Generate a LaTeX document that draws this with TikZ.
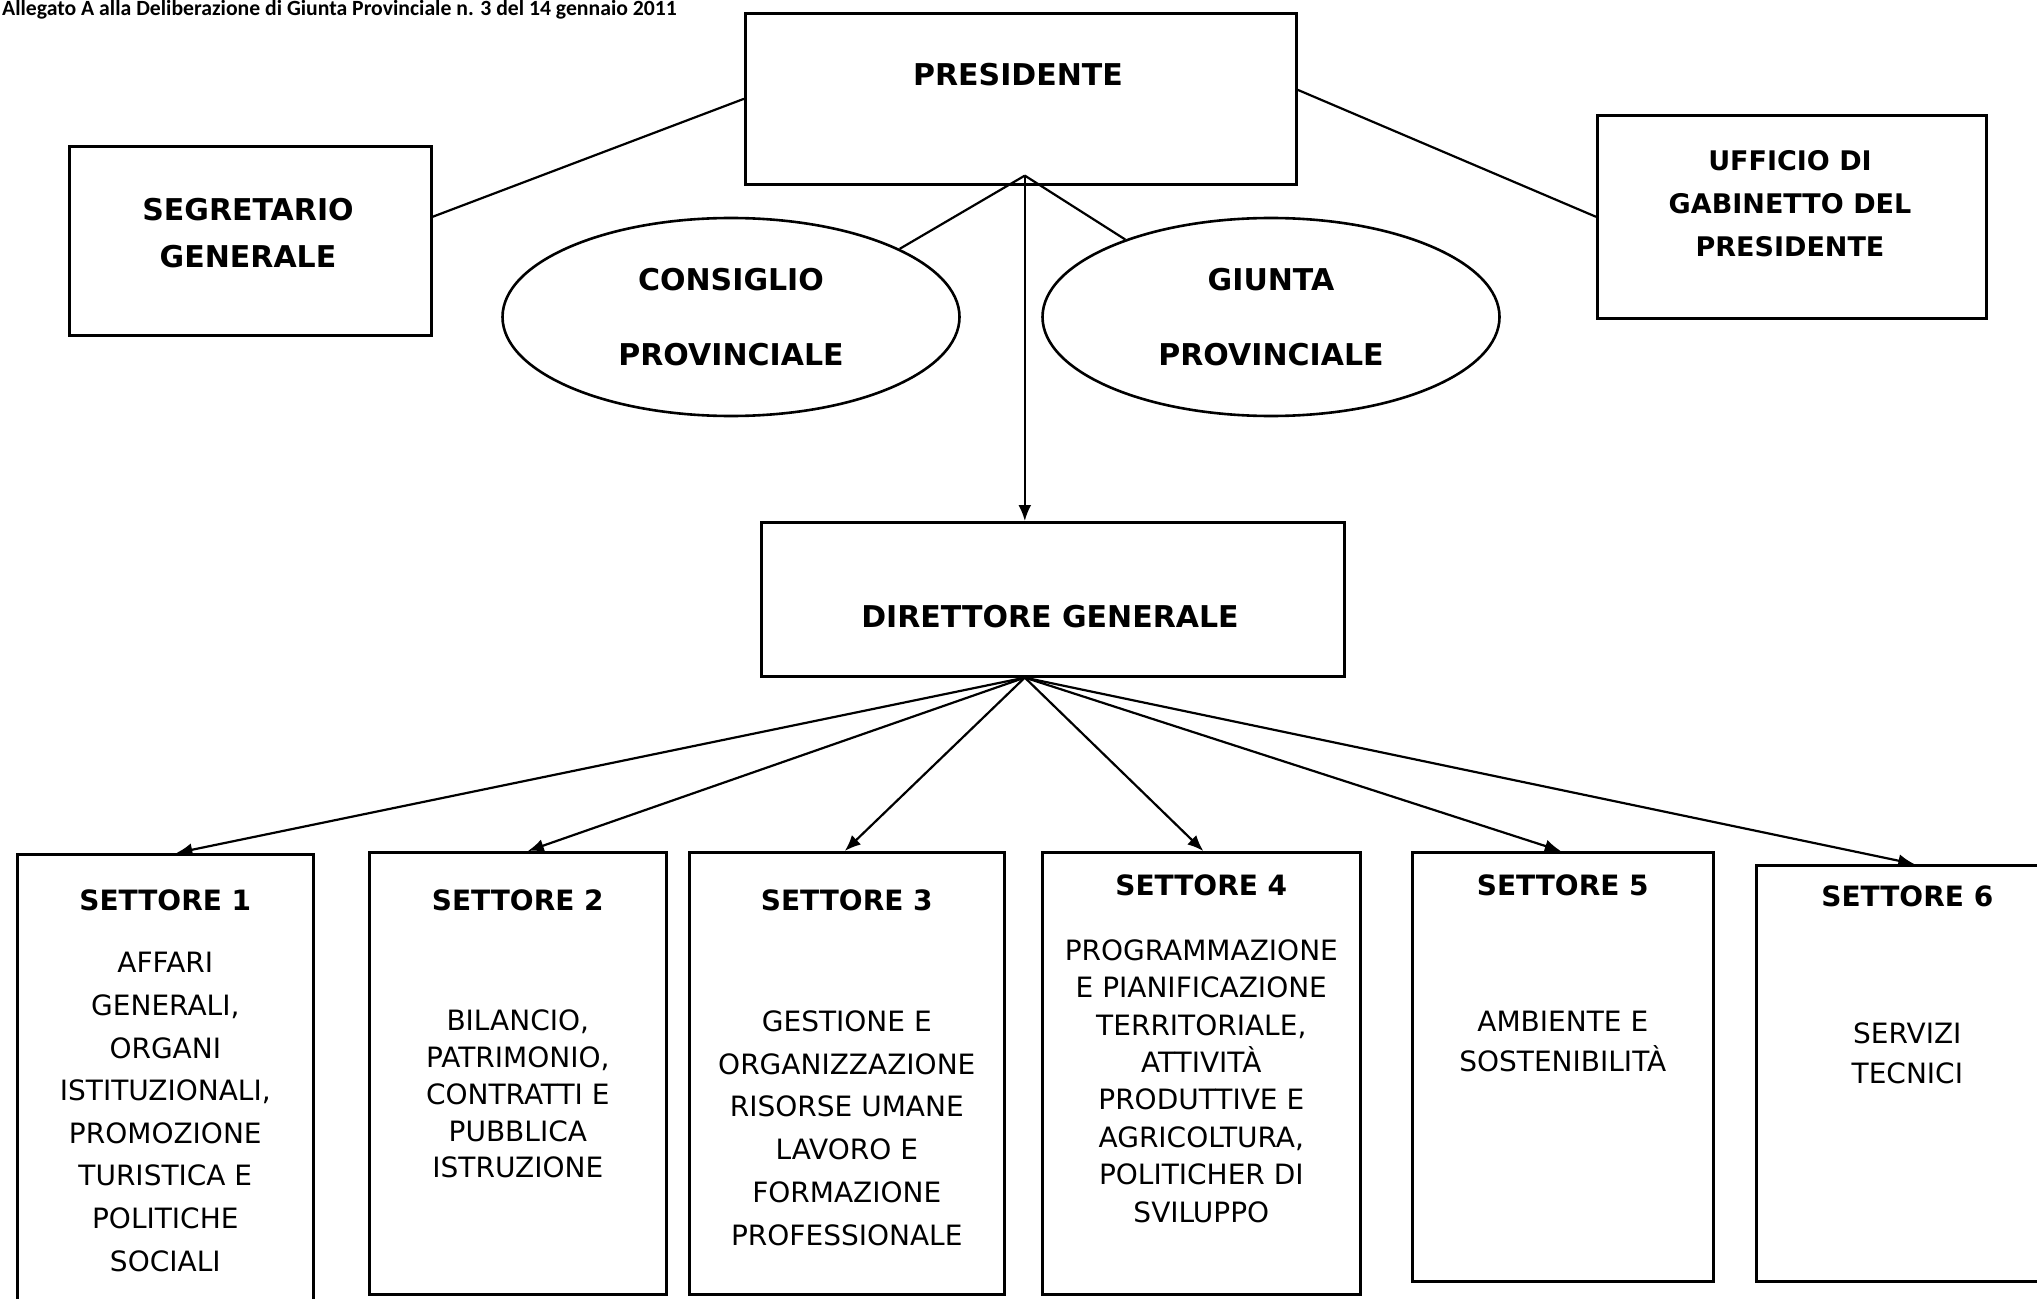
\documentclass[tikz,border=0pt]{standalone}
\usepackage{fontspec}
\setmainfont{DejaVu Sans}
\newfontfamily\intestfont{Carlito}
\usetikzlibrary{shapes.geometric, arrows.meta, positioning, calc}

\begin{document}
\begin{tikzpicture}[
    x=0.5pt, y=-0.5pt,
    line width=1.1pt,
    topbox/.style={rectangle, draw, line width=1.3pt, anchor=north west},
    ovale/.style={ellipse, draw, line width=1.3pt, align=center, minimum width=228.5pt, minimum height=99pt,
        font=\fontsize{15pt}{37.5pt}\selectfont\bfseries},
    toptext/.style={align=center, inner sep=0pt, font=\fontsize{15pt}{23.5pt}\selectfont\bfseries},
    settbox/.style={rectangle, draw, line width=1.3pt, anchor=north west},
    setttitle/.style={inner sep=0pt, font=\fontsize{14pt}{16pt}\selectfont\bfseries},
    settext/.style={align=center, inner sep=0pt, font=\fontsize{14pt}{#1}\selectfont},
    freccia/.style={-{Latex[length=8pt,width=6.5pt]}}
]
\useasboundingbox (0,0) rectangle (2037,1299);

% intestazione
\node[anchor=west, inner sep=0pt, font=\intestfont\bfseries\fontsize{10.85pt}{12pt}\selectfont] (intest) at (1,10)
    {Allegato A alla Deliberazione di Giunta Provinciale n. 3 del 14 gennaio 2011};

% organi di vertice
\node[topbox, minimum width=275.5pt, minimum height=85.5pt] (pres) at (744,12) {};
\node[toptext] (presT) at (1018,75) {PRESIDENTE};
\node[topbox, minimum width=181pt, minimum height=94.5pt] (segr) at (68,145) {};
\node[toptext] (segrT) at (248,233) {SEGRETARIO\\GENERALE};
\node[topbox, minimum width=194.5pt, minimum height=101.5pt] (uff) at (1596,114) {};
\node[toptext, font=\fontsize{13.5pt}{21.5pt}\selectfont\bfseries] (uffT) at (1790,204) {UFFICIO DI\\GABINETTO DEL\\PRESIDENTE};
\node[ovale] (cons) at (731,317) {CONSIGLIO\\PROVINCIALE};
\node[ovale] (giunta) at (1271,317) {GIUNTA\\PROVINCIALE};
\node[topbox, minimum width=291.5pt, minimum height=77pt] (dir) at (760,521) {};
\node[toptext] (dirT) at (1050,617) {DIRETTORE GENERALE};

% settori
\node[settbox, minimum width=148pt, minimum height=226pt] (s1) at (16,853) {};
\node[settbox, minimum width=148.5pt, minimum height=221pt] (s2) at (368,851) {};
\node[settbox, minimum width=157.5pt, minimum height=221pt] (s3) at (688,851) {};
\node[settbox, minimum width=159pt, minimum height=221pt] (s4) at (1041,851) {};
\node[settbox, minimum width=150.5pt, minimum height=214.5pt] (s5) at (1411,851) {};
\node[settbox, minimum width=151pt, minimum height=208pt] (s6) at (1755,864) {};

\node[setttitle] (s1T) at (s1.north |- 0,900) {SETTORE 1};
\node[setttitle] (s2T) at (s2.north |- 0,900) {SETTORE 2};
\node[setttitle] (s3T) at (s3.north |- 0,900) {SETTORE 3};
\node[setttitle] (s4T) at (s4.north |- 0,885) {SETTORE 4};
\node[setttitle] (s5T) at (s5.north |- 0,885) {SETTORE 5};
\node[setttitle] (s6T) at (s6.north |- 0,896) {SETTORE 6};

\node[settext=21.3pt] (s1B) at (s1.north |- 0,1112)
    {AFFARI\\GENERALI,\\ORGANI\\ISTITUZIONALI,\\PROMOZIONE\\TURISTICA E\\POLITICHE\\SOCIALI};
\node[settext=18.4pt] (s2B) at (s2.north |- 0,1094)
    {BILANCIO,\\PATRIMONIO,\\CONTRATTI E\\PUBBLICA\\ISTRUZIONE};
\node[settext=21.4pt] (s3B) at (s3.north |- 0,1128)
    {GESTIONE E\\ORGANIZZAZIONE\\RISORSE UMANE\\LAVORO E\\FORMAZIONE\\PROFESSIONALE};
\node[settext=18.7pt] (s4B) at (s4.north |- 0,1081)
    {PROGRAMMAZIONE\\E PIANIFICAZIONE\\TERRITORIALE,\\ATTIVITÀ\\PRODUTTIVE E\\AGRICOLTURA,\\POLITICHER DI\\SVILUPPO};
\node[settext=20pt] (s5B) at (s5.north |- 0,1041) {AMBIENTE E\\SOSTENIBILITÀ};
\node[settext=20pt] (s6B) at (s6.north |- 0,1053) {SERVIZI\\TECNICI};

% collegamenti
\coordinate (apice) at ($(pres.south)+(4,-10)$);
\coordinate (snodo) at (apice |- dir.south);
\draw (pres.west) -- ($(segr.east)+(0,-24)$);
\draw ($(pres.east)+(0,-9)$) -- (uff.west);
\draw (apice) -- (cons.22);
\draw (apice) -- (giunta.152);
\draw[freccia] (apice) -- (apice |- dir.north);

\draw[freccia] (snodo) -- ($(s1.north)+(11,0)$);
\draw[freccia] (snodo) -- ($(s2.north)+(10,0)$);
\draw[freccia] (snodo) -- ($(s3.north)+(-2,0)$);
\draw[freccia] (snodo) -- ($(s4.north)+(2,0)$);
\draw[freccia] (snodo) -- ($(s5.north)+(-2,0)$);
\draw[freccia] (snodo) -- ($(s6.north)+(7,0)$);

\end{tikzpicture}
\end{document}
